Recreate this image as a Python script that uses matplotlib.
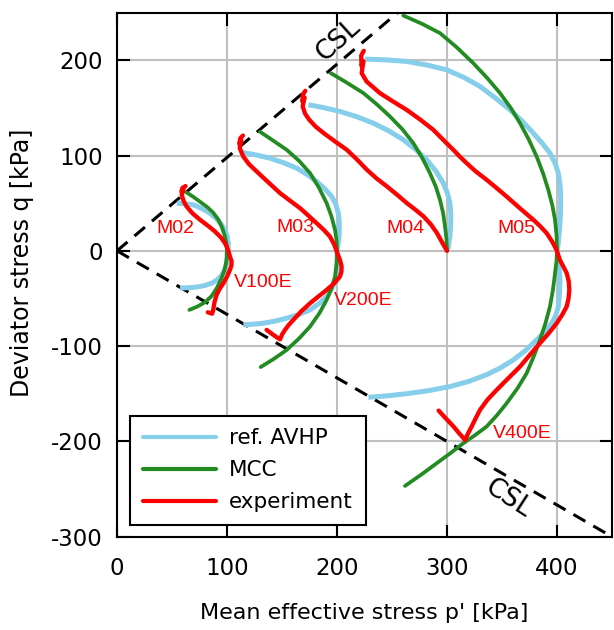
import matplotlib
matplotlib.use("Agg")
import matplotlib.pyplot as plt
import numpy as np

plt.rcParams["axes.unicode_minus"] = False

# ---------------- data (p', q) in kPa ----------------
# MCC model paths
mcc_m02_p = [63, 69, 75.5, 82, 87.5, 92, 95.3, 97.7, 99.1, 99.8, 100]
mcc_m02_q = [61.5, 57, 51.5, 46, 40, 33, 25, 17, 10, 5, 0]
mcc_v100_p = [100, 99.7, 98.8, 97.2, 94.5, 90.8, 86, 80, 73, 65.8]
mcc_v100_q = [0, -8, -15, -22, -30, -39, -47.5, -54, -58.5, -62]

mcc_m03_p = [130, 141, 154.3, 165.5, 175.5, 183.5, 190.6, 195, 198.2, 199.6, 200]
mcc_m03_q = [125, 116.5, 106, 94.5, 81.6, 66.5, 50, 36, 22, 11, 0]
mcc_v200_p = [200, 199.6, 198.2, 195, 190.6, 184, 175.5, 165.5, 154.3, 142.5, 130.6]
mcc_v200_q = [0, -13, -27, -39.5, -51.5, -65.5, -79.5, -92, -104, -113.5, -122]

mcc_m04_p = [194.3, 209, 224, 236.5, 248.2, 259.5, 269.4, 277.5, 284.5, 289.8, 293.6, 296.5, 298.2, 299.5, 300]
mcc_m04_q = [186.6, 176.5, 165.6, 153.5, 141, 127.5, 113, 97.5, 81.6, 67.5, 53.6, 39.5, 25.5, 12.5, 0]

mcc_m05_p = [260.3, 277, 293.6, 309, 323.9, 336.5, 348.2, 358, 366.4, 374.5, 381.5, 387.3, 392.1, 395.7, 398.2, 399.6, 400]
mcc_m05_q = [247, 238.5, 228.6, 213.5, 197, 181.5, 165.6, 150, 134, 116.5, 99, 81.5, 64, 48, 32.6, 16, 0]
mcc_v400_p = [400, 399.5, 398.2, 396.3, 393.6, 389.5, 384.5, 378.8, 372.4, 364, 354.2, 345.5, 336, 325.5, 314.8, 303, 290.6, 276.5, 261.8]
mcc_v400_q = [0, -11.5, -23.4, -41, -58.5, -76, -93.5, -111, -128.5, -144.5, -160, -172.5, -184.5, -193.5, -202, -212.5, -223, -235, -246.8]

# reference AVHP model paths
avhp_m02_p = [54.3, 62, 69.4, 77, 84.5, 90.5, 95.2, 98.3, 100.3, 101.1, 101, 100]
avhp_m02_q = [50, 49.5, 48.3, 44.5, 39.6, 33.5, 27.3, 21, 15, 8, 3, 0]
avhp_v100_p = [100, 100.2, 99.7, 98, 95.2, 91, 86.1, 79.5, 72.4, 65, 57.3]
avhp_v100_q = [0, -6.5, -13, -19.5, -25.7, -30.5, -34, -36.5, -38, -38.7, -39]

avhp_m03_p = [113.3, 126, 139, 151.5, 163.3, 173, 181.5, 189, 195.2, 199, 201.2, 202, 202.1, 201.8, 201, 200]
avhp_m03_q = [103.3, 100.8, 97.3, 92.5, 86.8, 80, 72.8, 65, 57, 48.5, 39.6, 31, 22, 14, 7, 0]
avhp_v200_p = [200, 200.4, 200.2, 199.7, 196, 190.6, 183.5, 175.5, 165, 154.3, 143.5, 133, 124, 114.8]
avhp_v200_q = [0, -8, -17, -27, -38, -48, -55.5, -62, -67, -70.7, -73.8, -76, -77, -77.7]

avhp_m04_p = [174, 188, 202.7, 218, 233, 247, 260.3, 271.5, 281.5, 290, 296.7, 300.5, 302.7, 303.5, 303.3, 302.5, 301.2, 300]
avhp_m04_q = [153.4, 150.3, 146.3, 140.8, 134, 126, 116.6, 106.5, 95.6, 83.5, 71, 60, 50, 37.5, 25.5, 14, 4.2, 0]

avhp_m05_p = [225.5, 244, 263.3, 282, 299.7, 315.5, 330, 344, 357.3, 368.5, 378.5, 386.5, 393.6, 398.2, 401.2, 402.8, 403.3, 403.3, 402.7, 401.9, 401.2, 400]
avhp_m05_q = [201.3, 200.5, 198.9, 195, 190, 182, 172.6, 160.5, 148, 136, 123.6, 113, 102.6, 92, 81.6, 69, 57, 43, 29, 18, 8, 0]
avhp_v400_p = [400, 401.8, 402.7, 402.3, 401.2, 398.8, 395.2, 389, 381.5, 371.5, 360.3, 348.5, 336, 320, 302.7, 283, 263.3, 246, 228.5]
avhp_v400_q = [0, -15, -30.5, -45, -58.5, -68, -76, -85, -93.5, -104.5, -114.5, -123, -130, -137, -142.5, -146.8, -150, -152.2, -153.7]

# experiments (compression peak -> isotropic point -> extension end)
exp_02_p = [62.3, 59.5, 58.5, 60.5, 58.8, 60.5, 63.3, 68.5, 75.5, 82.5, 89.1, 94.5, 98.2, 101, 102.7, 104.2, 104, 102.7,
            100, 96.7, 93.3, 90.6, 88.8, 88, 87.5, 86.5, 82.5]
exp_02_q = [68, 66, 62, 64, 58.8, 52.5, 46.5, 39.5, 32.6, 26.5, 20.3, 14, 8, 1, -6, -11, -15.5, -20,
            -27, -34, -40, -46.2, -53, -58, -62, -66, -64.5]

exp_03_p = [114.5, 112, 111.2, 113, 111.5, 114.8, 120, 127, 137.5, 148.2, 157.5, 166.4, 174, 181.5, 188, 193.6, 197.5,
            200.3, 202.7, 204.2, 204, 202.7, 197.5, 190.6, 183, 175.5, 167.5, 160.3, 156, 152.7, 150, 148.2,
            145, 142.1, 136]
exp_03_q = [121, 118, 112, 116, 108, 99, 91, 83.3, 72, 60.6, 52.5, 44.8, 37, 29, 22, 15, 6.5,
            -2.4, -9.5, -16.5, -22, -27, -34, -41, -48, -55, -63.5, -72.5, -78, -83, -88, -93,
            -90.5, -88.2, -83]

exp_04_p = [171.2, 169, 168.5, 170.5, 168.8, 171, 174.8, 180.5, 187.9, 198, 209, 218.5, 227.3, 236, 245.5, 254.5, 263.6,
            271.5, 278.8, 285.5, 290.9, 295.5, 300]
exp_04_q = [168, 164, 157, 161, 151.6, 144, 137.6, 130.5, 123.6, 115, 106, 95.5, 85, 76, 67.5, 59, 50,
            43, 36, 27.5, 18.6, 9, 0]

exp_05_p = [224.3, 222, 222.3, 224, 222.4, 226.9, 239, 250, 263.3, 276, 287.6, 297, 305.8, 312, 317.9, 326, 336, 345,
            354.2, 366, 378.5, 385, 390.6, 396, 399.7, 402.7, 406, 408.8, 410.7, 411.2, 410.5, 408.8,
            404.8, 399.7, 392.5, 384.5, 375.5, 366.4, 355.5, 345.2, 337, 330, 326, 322.4, 319, 316.4,
            311, 306, 299, 292.4]
exp_05_q = [210, 205, 194, 199, 186.6, 177.8, 165.6, 157.5, 148, 137.5, 127, 116, 106, 98.5, 92, 83.5, 74.6, 66,
            57, 45, 32.6, 25.5, 18.6, 9, 0.7, -9.8, -17, -23.4, -32, -41, -50, -58.5,
            -67, -76, -86.5, -97, -109, -121.5, -134, -146, -156, -167, -176, -184.5, -192, -198.5,
            -191.5, -184.5, -176, -167.7]

csl_p = [0, 450]
csl_slope_comp = 0.98
csl_slope_ext = -0.667

labels_txt = ["M02", "M03", "M04", "M05", "V100E", "V200E", "V400E"]
labels_p = [52.7, 162.4, 262.4, 362.7, 132.7, 223.6, 368.2]
labels_q = [23.8, 24, 23.8, 23.8, -32.9, -52, -191.5]

x_ticks = [0, 100, 200, 300, 400]
y_ticks = [-300, -200, -100, 0, 100, 200]

# ---------------- style ----------------
C_AVHP = "#87CEEB"
C_MCC = "#228B22"
C_EXP = "#FF0000"

fig = plt.figure(figsize=(6.14, 6.30), dpi=100)
ax = fig.add_axes([117 / 614, 1 - 536.6 / 630, 495 / 614, 523.9 / 630])

ax.set_xlim(0, 450)
ax.set_ylim(-300, 250)
ax.set_xticks(x_ticks)
ax.set_yticks(y_ticks)
ax.grid(True, color="#c0c0c0", lw=1.5, zorder=0)
ax.set_axisbelow(True)
ax.tick_params(direction="in", length=9, width=1.5, top=True, right=True, labelsize=16.5)
ax.tick_params(axis="x", pad=15)
ax.tick_params(axis="y", pad=10)
for s in ax.spines.values():
    s.set_linewidth(1.5)

csl_p_arr = np.array(csl_p)
ax.plot(csl_p_arr, csl_slope_comp * csl_p_arr, color="black", lw=2.2, dashes=(4.5, 3), zorder=2)
ax.plot(csl_p_arr, csl_slope_ext * csl_p_arr, color="black", lw=2.2, dashes=(4.5, 3), zorder=2)

avhp = [(avhp_m02_p, avhp_m02_q), (avhp_v100_p, avhp_v100_q), (avhp_m03_p, avhp_m03_q),
        (avhp_v200_p, avhp_v200_q), (avhp_m04_p, avhp_m04_q), (avhp_m05_p, avhp_m05_q),
        (avhp_v400_p, avhp_v400_q)]
mcc = [(mcc_m02_p, mcc_m02_q), (mcc_v100_p, mcc_v100_q), (mcc_m03_p, mcc_m03_q),
       (mcc_v200_p, mcc_v200_q), (mcc_m04_p, mcc_m04_q), (mcc_m05_p, mcc_m05_q),
       (mcc_v400_p, mcc_v400_q)]
exps = [(exp_02_p, exp_02_q), (exp_03_p, exp_03_q), (exp_04_p, exp_04_q), (exp_05_p, exp_05_q)]

for i, (p, q) in enumerate(avhp):
    ax.plot(p, q, color=C_AVHP, lw=3.6, solid_capstyle="butt", solid_joinstyle="round", zorder=3,
            label="ref. AVHP" if i == 0 else None)
for i, (p, q) in enumerate(mcc):
    ax.plot(p, q, color=C_MCC, lw=2.7, solid_capstyle="round", solid_joinstyle="round", zorder=4,
            label="MCC" if i == 0 else None)
for i, (p, q) in enumerate(exps):
    ax.plot(p, q, color=C_EXP, lw=3.1, solid_joinstyle="round", solid_capstyle="round", zorder=5,
            label="experiment" if i == 0 else None)

for t, p, q in zip(labels_txt, labels_p, labels_q):
    ax.text(p, q, t, color=C_EXP, fontsize=14, family="Liberation Sans",
            ha="center", va="center", zorder=6)

ax.text(201, 221, "CSL", fontsize=19, rotation=42, ha="center", va="center", zorder=6)
ax.text(356, -260, "CSL", fontsize=19, rotation=-33, ha="center", va="center", zorder=6)

ax.set_xlabel("Mean effective stress p' [kPa]", fontsize=16, labelpad=16)
fig.text(22 / 614, 1 - 263 / 630, "Deviator stress q [kPa]", fontsize=17,
         rotation=90, ha="center", va="center")

leg = ax.legend(loc="lower left", bbox_to_anchor=(0.026, 0.022), fontsize=15.5,
                handlelength=3.4, handletextpad=0.6, labelspacing=0.55,
                borderpad=0.6, borderaxespad=0, fancybox=False, framealpha=1,
                edgecolor="black")
leg.get_frame().set_linewidth(1.5)
for h in leg.get_lines():
    h.set_linewidth(3.0)
    h.set_solid_capstyle("round")

fig.savefig("out.png", dpi=100)
